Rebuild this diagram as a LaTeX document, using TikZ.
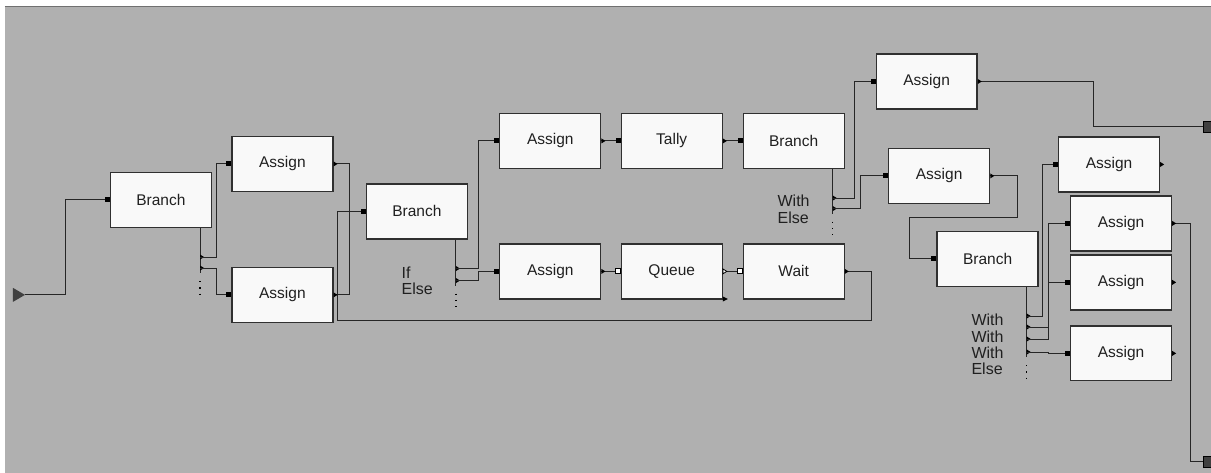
\documentclass[tikz,border=0pt]{standalone}
\usepackage{fontspec}
\setmainfont{Liberation Sans}
\usetikzlibrary{calc}
\definecolor{canvas}{HTML}{B0B0B0}
\definecolor{rim}{HTML}{707070}
\definecolor{boxfill}{HTML}{F9F9F9}
\definecolor{boxline}{HTML}{303030}
\definecolor{portgray}{HTML}{404040}
\definecolor{ink}{HTML}{202020}

\tikzset{
  block/.style={draw=boxline,fill=boxfill,line width=1.3pt,minimum width=101pt,
                minimum height=55pt,inner sep=0pt,text=ink,
                font=\fontsize{15.5}{17}\selectfont},
  wire/.style={draw=black!85,line width=1pt},
  dotline/.style={draw=black,line width=1.2pt,dash pattern=on 1.3pt off 5pt},
  lbl/.style={inner sep=0pt,align=left,text=ink,font=\fontsize{16}{16.4}\selectfont},
  exitport/.style={draw=black,fill=portgray,line width=0.8pt,minimum width=11pt,
                   minimum height=11pt,inner sep=0pt,anchor=west}
}

\begin{document}
\begin{tikzpicture}[x=1pt,y=-1pt]
  % frame
  \fill[white] (0,0) rectangle (1211,473);
  \fill[canvas] (5,7) rectangle (1211,473);
  \draw[rim,line width=1pt] (5,6.5) -- (1211,6.5);
  \useasboundingbox (0,0) rectangle (1211,473);

  % blocks
  \node[block] (br1) at (161,200)   {Branch};
  \node[block] (as1) at (282.5,164) {Assign};
  \node[block] (as2) at (282.5,295) {Assign};
  \node[block] (br2) at (417,211.5) {Branch};
  \node[block] (as3) at (550.5,141) {Assign};
  \node[block] (ta)  at (672,141)   {Tally};
  \node[block] (br3) at (794,141)   {Branch};
  \node[block] (as4) at (550.5,271.5) {Assign};
  \node[block] (qu)  at (672,271.5) {Queue};
  \node[block] (wt)  at (794,271.5) {Wait};
  \node[block] (as5) at (927,81.5)  {Assign};
  \node[block] (as6) at (939.5,176) {Assign};
  \node[block] (br4) at (988,259)   {Branch};
  \node[block] (as7) at (1109.5,164.5) {Assign};
  \node[block] (as8) at (1121.5,223.5) {Assign};
  \node[block] (as9) at (1121.5,282.5) {Assign};
  \node[block] (as10) at (1121.5,353.5) {Assign};

  % entry and exits
  \fill[portgray] (13,288) -- (25,295) -- (13,302) -- cycle;
  \coordinate (entry) at (25,295);
  \node[exitport] (exit1) at (1203,126.5) {};
  \node[exitport] (exit2) at (1203,462) {};

  % branch outlets
  \coordinate (b1a) at ($(br1.south east)+(-12,29)$);
  \coordinate (b1b) at ($(br1.south east)+(-12,40)$);
  \coordinate (b2a) at ($(br2.south east)+(-12,29)$);
  \coordinate (b2b) at ($(br2.south east)+(-12,41)$);
  \coordinate (b3a) at ($(br3.south east)+(-12,29)$);
  \coordinate (b3b) at ($(br3.south east)+(-12,39.5)$);
  \coordinate (b4a) at ($(br4.south east)+(-12,29)$);
  \coordinate (b4b) at ($(br4.south east)+(-12,40)$);
  \coordinate (b4c) at ($(br4.south east)+(-12,52)$);
  \coordinate (b4d) at ($(br4.south east)+(-12,65)$);

  \foreach \b/\e in {br1/b1b,br2/b2b,br3/b3b,br4/b4d}{
    \draw[wire] ($(\b.south east)+(-12,0)$) -- ($(\e)+(0,5)$);
    \draw[dotline] ($(\e)+(0,13)$) -- ++(0,18);
  }
  \foreach \o in {b1a,b1b,b2a,b2b,b3a,b3b,b4a,b4b,b4c,b4d}
    \fill ([yshift=2.5pt]\o) -- ([xshift=4pt]\o) -- ([yshift=-2.5pt]\o) -- cycle;

  \node[lbl,anchor=north east] (br2lbl) at ($(br2.south east)+(-35,27)$) {If\\Else};
  \node[lbl,anchor=north east] (br3lbl) at ($(br3.south east)+(-35,26)$) {With\\Else};
  \node[lbl,anchor=north east] (br4lbl) at ($(br4.south east)+(-35,27)$) {With\\With\\With\\Else};

  % connectors
  \draw[wire] (entry) -- ++(41,0) |- (br1.west);
  \draw[wire] (b1a) -- ++(16,0) |- (as1.west);
  \draw[wire] (b1b) -- ++(16,0) |- (as2.west);
  \draw[wire] (as1.east) -- ++(16,0) |- (br2.west);
  \draw[wire] (as2.east) -- ++(16,0) |- (br2.west);
  \draw[wire] (wt.east) -- ++(27,0) |- (338,321) |- (br2.west);
  \draw[wire] (b2a) -- ++(23,0) |- (as3.west);
  \draw[wire] (b2b) -- ++(23,0) |- (as4.west);
  \draw[wire] (as3.east) -- (ta.west);
  \draw[wire] (ta.east) -- (br3.west);
  \draw[wire] (as4.east) -- (qu.west);
  \draw[wire] (qu.east) -- (wt.west);
  \draw[wire] (b3a) -- ++(22,0) |- (as5.west);
  \draw[wire] (b3b) -- ++(28,0) |- (as6.west);
  \draw[wire] (as5.east) -- ++(116,0) |- (exit1.west);
  \draw[wire] (as6.east) -- ++(27,0) |- (910,218) |- (br4.west);
  \draw[wire] (b4a) -- ++(16,0) |- (as7.west);
  \draw[wire] (b4b) -- ++(22,0) |- (as8.west);
  \draw[wire] (b4c) -- ++(22,0) |- (as9.west);
  \draw[wire] (b4d) -- ++(22,0) |- (as10.west);
  \draw[wire] (as8.east) -- ++(18,0) |- (exit2.west);

  % ports
  \foreach \b in {br1,as1,as2,br2,as3,ta,br3,as4,as5,as6,br4,as7,as8,as9,as10}
    \fill ([xshift=-5pt,yshift=-2.5pt]\b.west) rectangle ([yshift=2.5pt]\b.west);
  \foreach \b in {qu,wt}
    \draw[fill=white,line width=0.8pt] ([xshift=-5pt,yshift=-2.5pt]\b.west) rectangle ([yshift=2.5pt]\b.west);
  \foreach \b in {as1,as2,as3,ta,as4,wt,as5,as6,as7,as8,as9,as10}
    \fill ([yshift=2.5pt]\b.east) -- ([xshift=4pt]\b.east) -- ([yshift=-2.5pt]\b.east) -- cycle;
  \draw[fill=white,line width=0.8pt] ([yshift=2.5pt]qu.east) -- ([xshift=4pt]qu.east)
    -- ([yshift=-2.5pt]qu.east) -- cycle;
  \fill ([yshift=3pt]qu.south east) -- ([xshift=5pt,yshift=0.5pt]qu.south east)
    -- ([yshift=-2pt]qu.south east) -- cycle;
\end{tikzpicture}
\end{document}
